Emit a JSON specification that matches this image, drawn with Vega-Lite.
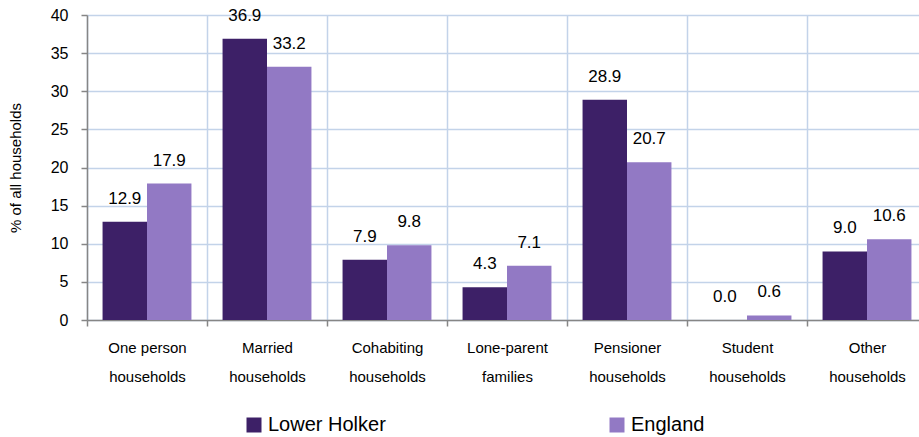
{
  "$schema": "https://vega.github.io/schema/vega-lite/v6.json",
  "autosize": "none",
  "width": 840,
  "height": 305,
  "padding": {"left": 87, "top": 15, "right": 0, "bottom": 117},
  "background": "white",
  "config": {
    "view": {"stroke": null},
    "font": "Liberation Sans",
    "axis": {"labelFont": "Liberation Sans", "titleFont": "Liberation Sans"}
  },
  "data": {
    "values": [
      {"category": "One person|households", "series": "Lower Holker", "value": 12.9},
      {"category": "One person|households", "series": "England", "value": 17.9},
      {"category": "Married|households", "series": "Lower Holker", "value": 36.9},
      {"category": "Married|households", "series": "England", "value": 33.2},
      {"category": "Cohabiting|households", "series": "Lower Holker", "value": 7.9},
      {"category": "Cohabiting|households", "series": "England", "value": 9.8},
      {"category": "Lone-parent|families", "series": "Lower Holker", "value": 4.3},
      {"category": "Lone-parent|families", "series": "England", "value": 7.1},
      {"category": "Pensioner|households", "series": "Lower Holker", "value": 28.9},
      {"category": "Pensioner|households", "series": "England", "value": 20.7},
      {"category": "Student|households", "series": "Lower Holker", "value": 0.0},
      {"category": "Student|households", "series": "England", "value": 0.6},
      {"category": "Other|households", "series": "Lower Holker", "value": 9.0},
      {"category": "Other|households", "series": "England", "value": 10.6}
    ]
  },
  "encoding": {
    "x": {
      "field": "category",
      "type": "nominal",
      "sort": null,
      "scale": {"paddingInner": 0, "paddingOuter": 0},
      "axis": {
        "title": null,
        "labelAngle": 0,
        "labelExpr": "isString(datum.value) ? split(datum.value, '|') : ''",
        "labelFontSize": 15,
        "labelColor": "#000000",
        "labelLineHeight": 29,
        "labelPadding": 21,
        "labelBaseline": "middle",
        "tickBand": "extent",
        "tickColor": "#868686",
        "tickSize": 6,
        "tickWidth": 1.5,
        "domainColor": "#868686",
        "domainWidth": 1.5,
        "grid": true,
        "gridColor": "#c3d3e9",
        "gridWidth": 1.5
      }
    },
    "xOffset": {
      "field": "series",
      "type": "nominal",
      "sort": ["Lower Holker", "England"],
      "scale": {"paddingInner": 0, "paddingOuter": 0.35}
    },
    "y": {
      "field": "value",
      "type": "quantitative",
      "scale": {"domain": [0, 40]},
      "axis": {
        "title": "% of all households",
        "titleFontSize": 15,
        "titleFontWeight": "normal",
        "titleColor": "#000000",
        "titlePadding": 27,
        "values": [0, 5, 10, 15, 20, 25, 30, 35, 40],
        "labelFontSize": 16,
        "labelColor": "#000000",
        "labelPadding": 13,
        "tickColor": "#868686",
        "tickSize": 6,
        "tickWidth": 1.5,
        "domainColor": "#868686",
        "domainWidth": 1.5,
        "gridColor": "#c3d3e9",
        "gridWidth": 1.5
      }
    }
  },
  "layer": [
    {
      "mark": {"type": "bar"},
      "encoding": {
        "color": {
          "field": "series",
          "type": "nominal",
          "scale": {"domain": ["Lower Holker", "England"], "range": ["#3d2067", "#9279c4"]},
          "legend": {
            "title": null,
            "orient": "none",
            "legendX": 157,
            "legendY": 400,
            "direction": "horizontal",
            "symbolType": "square",
            "symbolSize": 225,
            "symbolStrokeWidth": 0,
            "labelFontSize": 20,
            "labelColor": "#000000",
            "labelOffset": 4,
            "columnPadding": 221
          }
        }
      }
    },
    {
      "mark": {"type": "text", "baseline": "alphabetic", "dy": -18, "fontSize": 17, "color": "#000000"},
      "encoding": {
        "text": {"field": "value", "type": "quantitative", "format": ".1f"}
      }
    }
  ]
}
